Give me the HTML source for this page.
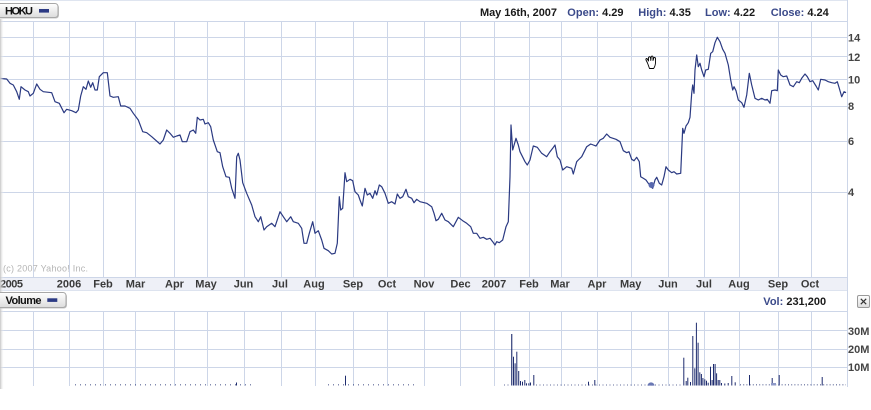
<!DOCTYPE html>
<html>
<head>
<meta charset="utf-8">
<style>
html,body{margin:0;padding:0;background:#fff;}
body{width:871px;height:410px;overflow:hidden;}
svg{display:block;}
text{font-family:"Liberation Sans",Arial,sans-serif;}
.b{font-weight:bold;font-size:11px;}
.ax{fill:#3a3a3a;}
.m{text-anchor:middle;}
.blue{fill:#3b4a8a;}
</style>
</head>
<body>
<svg width="871" height="410" viewBox="0 0 871 410" xmlns="http://www.w3.org/2000/svg">
<defs>
<linearGradient id="btn" x1="0" y1="0" x2="0" y2="1">
<stop offset="0" stop-color="#ffffff"/>
<stop offset="1" stop-color="#dcdcdc"/>
</linearGradient>
<linearGradient id="edge" x1="0" y1="0" x2="1" y2="0">
<stop offset="0" stop-color="#c4c4c4"/>
<stop offset="1" stop-color="#ffffff" stop-opacity="0"/>
</linearGradient>
</defs>

<rect x="0" y="0" width="871" height="410" fill="#fff"/>
<line x1="0" y1="0.5" x2="847" y2="0.5" stroke="#dfe5f0"/>

<g stroke="#cdd6e8" stroke-width="1" fill="none">
<line x1="0" y1="21.5" x2="847" y2="21.5"/>
<line x1="0" y1="37.5" x2="847" y2="37.5"/>
<line x1="0" y1="56.5" x2="847" y2="56.5"/>
<line x1="0" y1="79.5" x2="847" y2="79.5"/>
<line x1="0" y1="106.5" x2="847" y2="106.5"/>
<line x1="0" y1="141.5" x2="847" y2="141.5"/>
<line x1="0" y1="192.5" x2="847" y2="192.5"/>
<path d="M33.5 21V277M69.5 21V277M103.5 21V277M135.5 21V277M174.5 21V277M207.5 21V277M244.5 21V277M281.5 21V277M315.5 21V277M353.5 21V277M387.5 21V277M424.5 21V277M460.5 21V277M494.5 21V277M529.5 21V277M561.5 21V277M597.5 21V277M631.5 21V277M668.5 21V277M704.5 21V277M739.5 21V277M778.5 21V277M811.5 21V277"/>
<line x1="0" y1="311.5" x2="847" y2="311.5"/>
<line x1="0" y1="330.5" x2="847" y2="330.5"/>
<line x1="0" y1="349.5" x2="847" y2="349.5"/>
<line x1="0" y1="367.5" x2="847" y2="367.5"/>
<path d="M33.5 311V386M69.5 311V386M103.5 311V386M135.5 311V386M174.5 311V386M207.5 311V386M244.5 311V386M281.5 311V386M315.5 311V386M353.5 311V386M387.5 311V386M424.5 311V386M460.5 311V386M494.5 311V386M529.5 311V386M561.5 311V386M597.5 311V386M631.5 311V386M668.5 311V386M704.5 311V386M739.5 311V386M778.5 311V386M811.5 311V386"/>
<line x1="847.5" y1="0" x2="847.5" y2="387"/>
</g>

<rect x="0" y="277" width="847" height="13" fill="#eef0f7"/>
<line x1="0" y1="277.5" x2="847" y2="277.5" stroke="#cdd6e8"/>
<line x1="0" y1="290.5" x2="847" y2="290.5" stroke="#dde3ef"/>

<g class="b ax">
<text x="0" y="287.5" textLength="23">2005</text>
<text class="m" x="69" y="287.5">2006</text>
<text class="m" x="103" y="287.5">Feb</text>
<text class="m" x="135.5" y="287.5">Mar</text>
<text class="m" x="174.5" y="287.5">Apr</text>
<text class="m" x="206" y="287.5">May</text>
<text class="m" x="243.5" y="287.5">Jun</text>
<text class="m" x="280" y="287.5">Jul</text>
<text class="m" x="314" y="287.5">Aug</text>
<text class="m" x="353" y="287.5">Sep</text>
<text class="m" x="387" y="287.5">Oct</text>
<text class="m" x="424" y="287.5">Nov</text>
<text class="m" x="460.5" y="287.5">Dec</text>
<text class="m" x="494" y="287.5">2007</text>
<text class="m" x="529" y="287.5">Feb</text>
<text class="m" x="560" y="287.5">Mar</text>
<text class="m" x="597" y="287.5">Apr</text>
<text class="m" x="630.7" y="287.5">May</text>
<text class="m" x="668" y="287.5">Jun</text>
<text class="m" x="704" y="287.5">Jul</text>
<text class="m" x="739" y="287.5">Aug</text>
<text class="m" x="778" y="287.5">Sep</text>
<text class="m" x="810" y="287.5">Oct</text>
</g>

<g class="b" fill="#444">
<text x="848" y="41.5">14</text>
<text x="848" y="61">12</text>
<text x="848" y="83.5">10</text>
<text x="848" y="110">8</text>
<text x="848" y="145">6</text>
<text x="848" y="196">4</text>
<text x="848" y="335">30M</text>
<text x="848" y="353">20M</text>
<text x="848" y="371">10M</text>
</g>

<text x="3" y="271.5" font-size="9" fill="#b4b4b4" textLength="85">(c) 2007 Yahoo! Inc.</text>

<polyline fill="none" stroke="#2b3a82" stroke-width="1.2" stroke-linejoin="round" points="0,78.3 6.7,79 10,83.3 13.3,85 16.7,91.7 19.3,99.3 21,86.7 25,90 28.3,91.7 30,96 33.3,93.3 36.7,84 40,89.3 43.3,91.7 51.7,92.7 55,101.7 59.3,103.3 64,112.7 66.7,109.3 71.7,110.7 76,112.7 78.3,110 80.7,96 83.3,86.7 86,89.3 88.3,81 90.7,87.3 92.7,82.7 95,90 97.3,90 99.3,76.7 103.3,72.7 107.3,72.7 110,96 113.3,97.3 118.3,96.7 120.7,106 125,106 130,108.3 133.3,113.3 138.3,120 142.7,131.7 146.7,132.7 151.7,136.7 160,144 163.3,140 166.7,130 170,133.3 173.3,137.3 176.7,136 180,135 182.3,141.7 186.7,141.7 190,131.7 193.3,130 195.7,133.3 197.3,117.3 200,120 203.3,119.3 205,124 208.3,122.7 210.7,126.7 213.3,140 217.3,151.7 220,152.7 222.7,166.7 226,176.7 229.3,177.3 231.7,188.3 235,198.3 236.7,156.7 238.3,153.3 240,160 242.7,182.7 246.7,193.3 251.7,205 255,216.7 258.3,221.7 260.7,216.7 264,230 266.7,226.7 271.7,223.3 275,226.7 280,211.7 283.3,216.7 286.7,221.7 290.7,216.7 293.3,221.7 298.3,223.3 301.7,228.3 304,243.3 306.7,243.3 309.3,233.3 312.7,221.7 315,233.3 318.3,230.7 321.7,240 324,248.3 328.3,250.7 331.7,254 335,253.3 337.3,243.3 339.3,196.7 340.7,210 342.7,208.3 345,172.7 346.7,181.7 350,179.3 352.7,180.7 355,191.7 358.3,195 360,200 362.3,206 365,188.3 367.3,195 370,193.3 372.7,198.3 375,190.7 376.7,195 379.3,185 381.7,186.7 385,193.3 388.3,203.3 391.7,201.7 395,204 397.3,194 400,198.3 402.7,196.7 406,189.3 408.3,196.7 411.7,198.3 414,202.7 416.7,199.3 420,201.7 426.7,203.3 431.7,206.7 434,213.3 436,220.7 438.3,219.3 441.7,213.3 445,220 448.3,221.7 453.3,226.7 458.3,217.3 462.7,220.7 466.7,223.3 470.7,226.7 473.3,233.3 476.7,233.3 480,238.3 483.3,237.3 486.7,239.3 490,238.3 492.7,241.7 495,245 496.7,241.7 499.3,242.7 502.7,240 506,226.7 508.3,221.7 510,176.7 511,125 512.7,150 516,138.3 518.3,145 520,151.7 525,161.7 527.3,165 530,160 533.3,146 537.3,147.3 541.7,153.3 546.7,156.7 550,151.7 552.7,148.3 555,145 557.3,156.7 560,160 562.7,170 566.7,166.7 571.7,168.3 573.3,174 576.7,161.7 578.3,160 581.7,156.7 586.7,146.7 590.7,144 593.3,145 596,146 600,140 603.3,138.3 606.7,134 610,137.3 616,139.3 620,141.7 623.3,150.7 626.7,152.7 629,151.7 631.7,159.3 634,160.7 636.7,157.3 639.3,161.7 640.7,176.7 643.3,178.3 646,180 648.3,183.3 650.7,186.7 652.7,188.3 655,180 656.7,177.3 659.3,183.3 661.7,185 664,176.7 666,166.7 668.3,170 671.7,172.7 674,171.7 676.7,174 680.7,173.3 682.7,128.3 684,133.3 686,126 688.3,122.7 690,117.3 691.7,93.3 692.7,85 694,93.3 695,70 696.7,55 698.3,66.7 700,63.3 701.7,70 704,76.7 705.7,70 708.3,69.3 710.7,53.3 712.7,51.7 715,42.7 717.3,37.3 720,41.7 722.7,49.3 725,53.3 728.3,65 730.7,80 732.7,90 734,86.7 736,90.7 738.3,100 741.7,102.7 744,107.3 746.7,95 749.3,73.3 751.7,85 755,98.3 758.3,100 761.7,98.3 765,100 767.3,99.3 770,103.3 771.7,90.7 775,90 777.3,90.7 778.3,70 780.7,75 783.3,76.7 786.7,76 790,85 793.3,86.7 796.7,81.7 799.3,82.7 801.7,78.3 805,74 807.3,76.7 810,81.7 812.7,80.7 816,86 818.3,90 820.7,79.3 825,80 828.3,81.7 831.7,82.7 835,83.3 837.3,81.7 839.3,88.3 841.7,96.7 844,91.7 846,92.7"/>
<circle cx="651.5" cy="185" r="3" fill="#5868ae"/>

<g fill="#fff" stroke="#000" stroke-width="0.9" stroke-linejoin="round">
<path d="M647.5,63 L646,60 Q645.5,58.5 647,58.5 L648.5,61 L648.5,57.5 Q649.5,56 650.5,57.5 L650.8,60.5 L651.2,56.5 Q652.3,55.5 653,56.8 L653,60.5 L654,57.5 Q655.2,57 655.5,58.5 L655.5,63 Q655,67 653.5,68.5 L649.5,68.5 Z"/>
</g>

<g stroke="#1e2c6e" fill="none" opacity="0.55">
<line x1="75" y1="384.8" x2="255" y2="384.8" stroke-width="1.5" stroke-dasharray="1 4"/>
<line x1="328" y1="384.8" x2="418" y2="384.8" stroke-width="1.5" stroke-dasharray="1 4"/>
<line x1="504" y1="385" x2="510" y2="385" stroke-width="1.2" stroke-dasharray="1 2.5"/>
<line x1="536" y1="385" x2="682" y2="385" stroke-width="1.2" stroke-dasharray="1 2.5"/>
<line x1="740" y1="384.8" x2="846" y2="384.8" stroke-width="1.5" stroke-dasharray="1 2.2"/>
</g>
<g fill="#1e2c6e">
<rect x="236" y="382.5" width="1" height="3"/>
<rect x="345" y="375.7" width="1" height="9.8"/>
<rect x="511.2" y="334" width="1.1" height="51.5"/>
<rect x="513" y="356.7" width="1" height="28.8"/>
<rect x="514.6" y="363.3" width="1" height="22.2"/>
<rect x="516.3" y="351.7" width="1" height="33.8"/>
<rect x="518.2" y="371" width="1" height="14.5"/>
<rect x="520" y="381" width="1" height="4.5"/>
<rect x="522" y="381.7" width="1" height="3.8"/>
<rect x="524.3" y="380" width="1" height="5.5"/>
<rect x="526" y="383.3" width="1" height="2.2"/>
<rect x="528.3" y="383.3" width="1" height="2.2"/>
<rect x="530" y="382.5" width="1" height="3"/>
<rect x="533.3" y="375" width="1" height="10.5"/>
<rect x="588" y="381.7" width="1" height="3.8"/>
<rect x="594.3" y="380" width="1" height="5.5"/>
<rect x="683.3" y="357.7" width="1" height="27.8"/>
<rect x="685.7" y="381" width="1" height="4.5"/>
<rect x="687.3" y="377.7" width="1" height="7.8"/>
<rect x="690" y="382" width="1" height="3.5"/>
<rect x="692.3" y="336" width="1" height="49.5"/>
<rect x="694.3" y="368.3" width="1" height="17.2"/>
<rect x="695.9" y="322.7" width="1" height="62.8"/>
<rect x="697.6" y="342.7" width="1" height="42.8"/>
<rect x="699.3" y="372.3" width="1" height="13.2"/>
<rect x="700.9" y="374" width="1" height="11.5"/>
<rect x="702.4" y="378" width="1" height="7.5"/>
<rect x="704.3" y="379.3" width="1" height="6.2"/>
<rect x="706" y="380.7" width="1" height="4.8"/>
<rect x="707.7" y="382.7" width="1" height="2.8"/>
<rect x="710" y="366.7" width="1" height="18.8"/>
<rect x="711.6" y="380" width="1" height="5.5"/>
<rect x="713" y="364" width="1" height="21.5"/>
<rect x="714.6" y="364" width="1" height="21.5"/>
<rect x="716.1" y="373.3" width="1" height="12.2"/>
<rect x="717.7" y="380" width="1" height="5.5"/>
<rect x="719.3" y="380" width="1" height="5.5"/>
<rect x="721" y="383" width="1" height="2.5"/>
<rect x="724.3" y="383.5" width="1" height="2"/>
<rect x="727.7" y="383" width="1" height="2.5"/>
<rect x="731.3" y="376" width="1" height="9.5"/>
<rect x="734.7" y="382.3" width="1" height="3.2"/>
<rect x="749" y="375" width="1" height="10.5"/>
<rect x="771.7" y="378" width="1" height="7.5"/>
<rect x="778.7" y="375" width="1" height="10.5"/>
<rect x="821.7" y="377" width="1" height="8.5"/>
</g>
<path d="M647.5,385.6 A3.5,3.2 0 0 1 654.5,385.6 Z" fill="#6a78b4"/>
<rect x="771" y="383" width="5" height="2.5" fill="#8f9ac8"/>

<rect x="0" y="19" width="4" height="370" fill="url(#edge)"/>

<rect x="-3" y="4.5" width="62" height="14" rx="3" fill="#c8c8c8"/>
<rect x="-4" y="3.5" width="62" height="14" rx="3" fill="url(#btn)" stroke="#a8a8a8"/>
<text class="b" x="5" y="14.5" fill="#111" textLength="28">HOKU</text>
<rect x="39" y="9" width="10" height="3.6" fill="#2c3a84"/>

<g class="b">
<text x="480" y="16" fill="#1a1a1a" textLength="77">May 16th, 2007</text>
<text x="567.3" y="16"><tspan class="blue">Open:</tspan><tspan fill="#1a1a1a"> 4.29</tspan></text>
<text x="638.3" y="16"><tspan class="blue">High:</tspan><tspan fill="#1a1a1a"> 4.35</tspan></text>
<text x="705" y="16"><tspan class="blue">Low:</tspan><tspan fill="#1a1a1a"> 4.22</tspan></text>
<text x="770.7" y="16"><tspan class="blue">Close:</tspan><tspan fill="#1a1a1a"> 4.24</tspan></text>
</g>

<rect x="-3" y="293.5" width="70" height="15" rx="3" fill="#c8c8c8"/>
<rect x="-4" y="292.5" width="70" height="15" rx="3" fill="url(#btn)" stroke="#a8a8a8"/>
<text class="b" x="5.5" y="304" fill="#111" textLength="36">Volume</text>
<rect x="47.3" y="298.3" width="10" height="3.6" fill="#2c3a84"/>

<text class="b" x="763.3" y="305"><tspan class="blue">Vol:</tspan><tspan fill="#1a1a1a"> 231,200</tspan></text>

<rect x="857.5" y="295.5" width="12" height="12" rx="1.5" fill="url(#btn)" stroke="#9a9a9a"/>
<path d="M860.8,298.8 L866.2,304.2 M866.2,298.8 L860.8,304.2" stroke="#333" stroke-width="1.2"/>
</svg>
</body>
</html>
